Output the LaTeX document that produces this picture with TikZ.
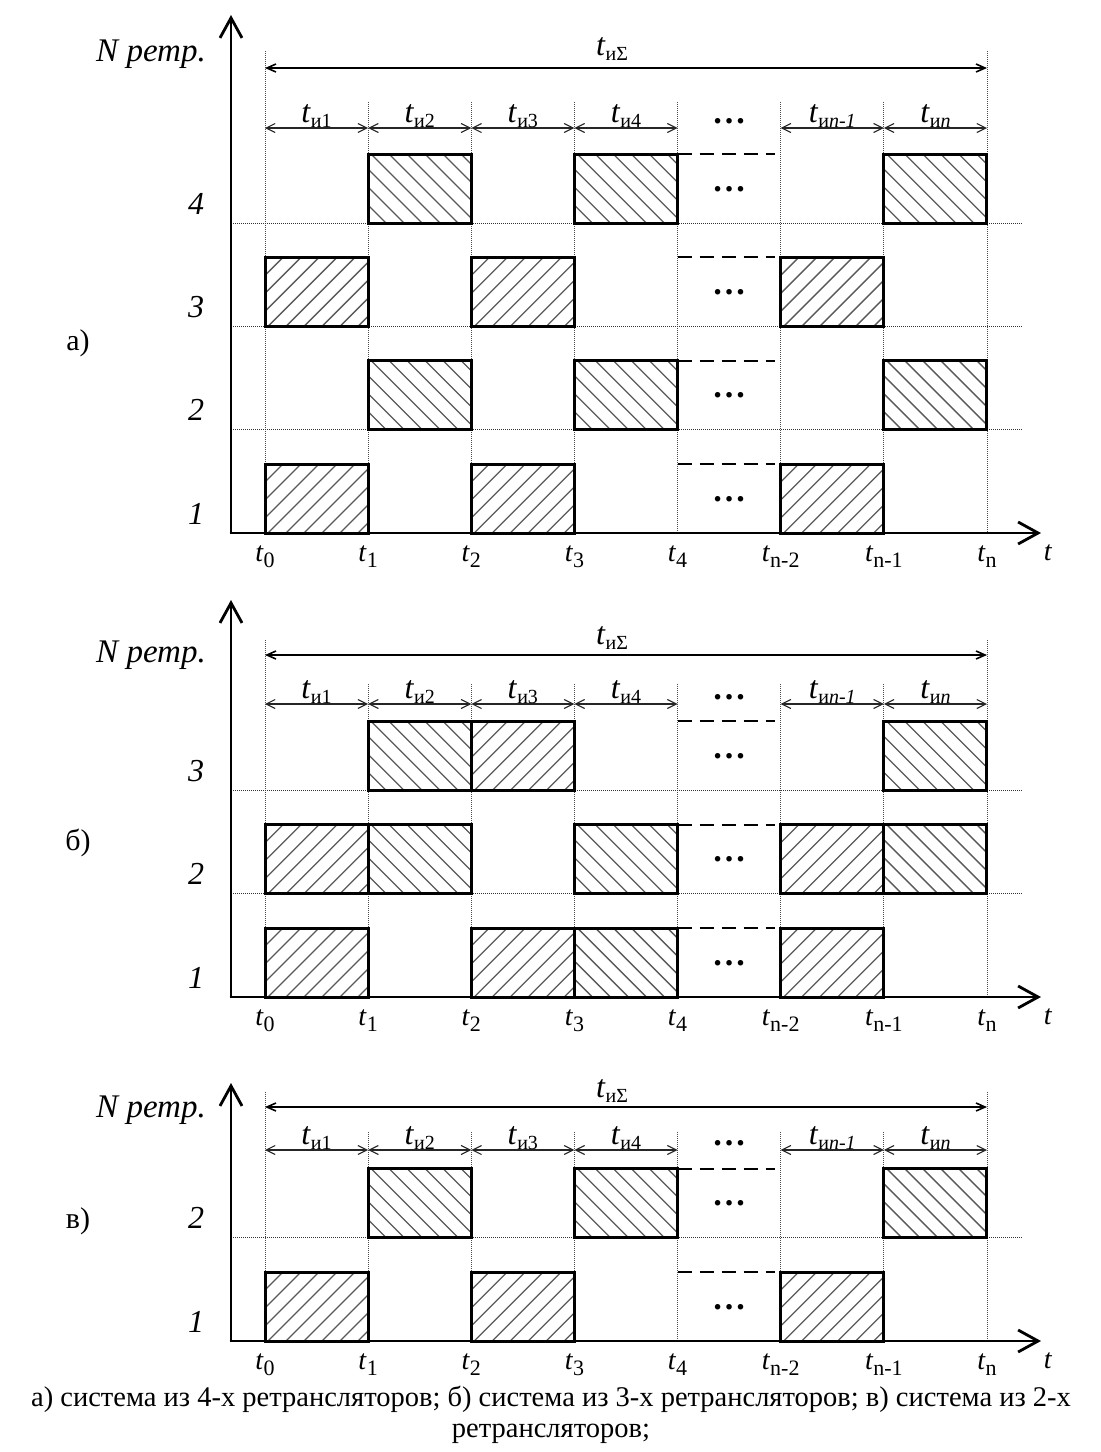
\documentclass[tikz,border=0pt]{standalone}
\usepackage{fontspec}
\setmainfont{Liberation Serif}
\usetikzlibrary{arrows.meta}
\newcommand\tsg[1]{\textit{t}\raisebox{-5pt}{\fontsize{20}{20}\selectfont #1}}
\newcommand\tck[1]{\textit{t}\raisebox{-6pt}{\fontsize{22}{22}\selectfont #1}}
\tikzset{
  axisline/.style={line width=2.8pt,-{Straight Barb[length=20pt,width=22pt]}},
  guideline/.style={line width=0.9pt,black!70,dash pattern=on 1pt off 1pt},
  gridline/.style={line width=0.9pt,black!80,dash pattern=on 1pt off 1pt},
  dimS/.style={line width=1.6pt,{Straight Barb[length=9pt,width=8pt]}-{Straight Barb[length=9pt,width=8pt]}},
  dimU/.style={line width=1.1pt,black!85,{Straight Barb[length=9pt,width=9pt]}-{Straight Barb[length=9pt,width=9pt]}},
  boxline/.style={line width=3pt},
  hatchline/.style={line width=1.3pt,black!65},
  dashln/.style={line width=2pt,dash pattern=on 14pt off 8pt},
  lvl/.style={font=\fontsize{32}{36}\selectfont\itshape,inner sep=0pt},
  nlbl/.style={font=\fontsize{33}{36}\selectfont\itshape,inner sep=0pt},
  seglbl/.style={font=\fontsize{32}{36}\selectfont,inner sep=0pt},
  ticklbl/.style={font=\fontsize{28}{30}\selectfont,inner sep=0pt},
  dotsn/.style={font=\fontsize{34}{36}\selectfont\bfseries,inner sep=0pt},
  plbl/.style={font=\fontsize{30}{34}\selectfont,inner sep=0pt},
  caplbl/.style={font=\fontsize{28.5}{32}\selectfont,inner sep=0pt}
}
% set \PT (tip), \PS (sum arrow), \PU (segment arrows), \PSB (sum label base),
% \PNB (N label base), \PGO (t0/tn guide top), \PGI (inner guide top) before use
% #1 axis y, #2 rows, #3 panel label, #4 id, #5 panel label y
\newcommand\panel[5]{%
  \pgfmathsetmacro\PA{#1}%
  \foreach \i in {0,...,7} {%
    \pgfmathsetmacro\xx{265+\i*103.14}%
    \ifnum\i=0 \let\yy\PGO\else\ifnum\i=7 \let\yy\PGO\else\let\yy\PGI\fi\fi
    \draw[guideline] (\xx,\yy) -- (\xx,\PA);
  }%
  \foreach \k in {2,...,#2} {%
    \pgfmathsetmacro\yy{\PA-(\k-1)*103.3}%
    \draw[gridline] (231,\yy) -- (1022,\yy);
  }%
  \coordinate (#4o) at (231,\PA);
  \coordinate (#4yt) at (231,\PT);
  \coordinate (#4xt) at (1041,\PA);
  \draw[axisline] ([yshift=-1.4pt]#4o) -- (#4yt);
  \draw[axisline] ([xshift=-1.4pt]#4o) -- (#4xt);
  \node[nlbl,anchor=base east] (#4N) at (206,\PNB) {N ретр.};
  \node[plbl,anchor=base] (#4P) at (78,#5) {#3};
  \coordinate (#4s0) at (265,\PS);
  \coordinate (#4s7) at (987,\PS);
  \draw[dimS] (#4s0) -- (#4s7);
  \node[seglbl,anchor=base] (#4sig) at (612,\PSB) {\tsg{иΣ}};
  \foreach \i/\s in {0/и1,1/и2,2/и3,3/и4,5/и\textit{n-1},6/и\textit{n}} {%
    \pgfmathsetmacro\xa{265+\i*103.14}%
    \pgfmathsetmacro\xb{\xa+103.14}%
    \coordinate (#4u\i a) at (\xa,\PU);
    \coordinate (#4u\i b) at (\xb,\PU);
    \draw[dimU] (#4u\i a) -- (#4u\i b);
    \node[seglbl,anchor=base] (#4ul\i) at ({(\xa+\xb)/2},\PU-6) {\tsg{\s}};
  }%
  \node[dotsn,anchor=base] (#4hd) at (729,\PU-5) {…};
  \foreach \i/\s in {0/0,1/1,2/2,3/3,4/4,5/n-2,6/n-1,7/n} {%
    \pgfmathsetmacro\xx{265+\i*103.14}%
    \node[ticklbl,anchor=base] (#4t\i) at (\xx,\PA+28) {\tck{\s}};
  }%
  \node[ticklbl,anchor=base] (#4tt) at (1048,\PA+27) {\textit{t}};
  \foreach \k in {1,...,#2} {%
    \pgfmathsetmacro\yb{\PA-(\k-1)*103.3}%
    \pgfmathsetmacro\yt{\yb-69}%
    \node[lvl,anchor=base] (#4lv\k) at (196,\yb-9) {\k};
    \draw[dashln] (677.6,\yt) -- (775,\yt);
    \node[dotsn,anchor=base] (#4rd\k) at (729,\yb-34.5+2.5) {…};
  }%
}
% #1 left index, #2 row, #3 1 = '/', 0 = '\'
\newcommand\rbox[3]{%
  \pgfmathsetmacro\xl{265+#1*103.14}%
  \pgfmathsetmacro\xr{\xl+103.14}%
  \pgfmathsetmacro\yb{\PA-(#2-1)*103.3}%
  \pgfmathsetmacro\yt{\yb-69}%
  \begin{scope}
    \clip (\xl,\yt) rectangle (\xr,\yb);
    \foreach \k in {0,...,10} {%
      \ifnum#3=1
        \draw[hatchline] ({\xl-69+\k*18},\yb) -- ++(76,-76);
      \else
        \draw[hatchline] ({\xl-69+\k*18},\yt) -- ++(76,76);
      \fi
    }%
  \end{scope}
  \draw[boxline] (\xl,\yt) rectangle (\xr,\yb);
}
\begin{document}
\begin{tikzpicture}[x=1pt,y=-1pt]
\fill[white] (0,0) rectangle (1101,1452);
\useasboundingbox (0,0) rectangle (1101,1452);
% panel a
\def\PT{15}\def\PS{68}\def\PU{128}\def\PSB{55}\def\PNB{61}\def\PGO{51}\def\PGI{102}
\panel{533}{4}{а)}{a}{350}
\rbox{1}{4}{0}\rbox{3}{4}{0}\rbox{6}{4}{0}
\rbox{0}{3}{1}\rbox{2}{3}{1}\rbox{5}{3}{1}
\rbox{1}{2}{0}\rbox{3}{2}{0}\rbox{6}{2}{0}
\rbox{0}{1}{1}\rbox{2}{1}{1}\rbox{5}{1}{1}
% panel b
\def\PT{600}\def\PS{655}\def\PU{704}\def\PSB{644}\def\PNB{662}\def\PGO{640}\def\PGI{684}
\panel{997}{3}{б)}{b}{850}
\rbox{1}{3}{0}\rbox{2}{3}{1}\rbox{6}{3}{0}
\rbox{0}{2}{1}\rbox{1}{2}{0}\rbox{3}{2}{0}\rbox{5}{2}{1}\rbox{6}{2}{0}
\rbox{0}{1}{1}\rbox{2}{1}{1}\rbox{3}{1}{0}\rbox{5}{1}{1}
% panel c
\def\PT{1083}\def\PS{1107}\def\PU{1150}\def\PSB{1097}\def\PNB{1117}\def\PGO{1092}\def\PGI{1132}
\panel{1341}{2}{в)}{c}{1228}
\rbox{1}{2}{0}\rbox{3}{2}{0}\rbox{6}{2}{0}
\rbox{0}{1}{1}\rbox{2}{1}{1}\rbox{5}{1}{1}
% caption
\node[caplbl,anchor=base] (cap1) at (551,1406) {а) система из 4-х ретрансляторов; б) система из 3-х ретрансляторов; в) система из 2-х};
\node[caplbl,anchor=base] (cap2) at (551,1437) {ретрансляторов;};
\end{tikzpicture}
\end{document}
